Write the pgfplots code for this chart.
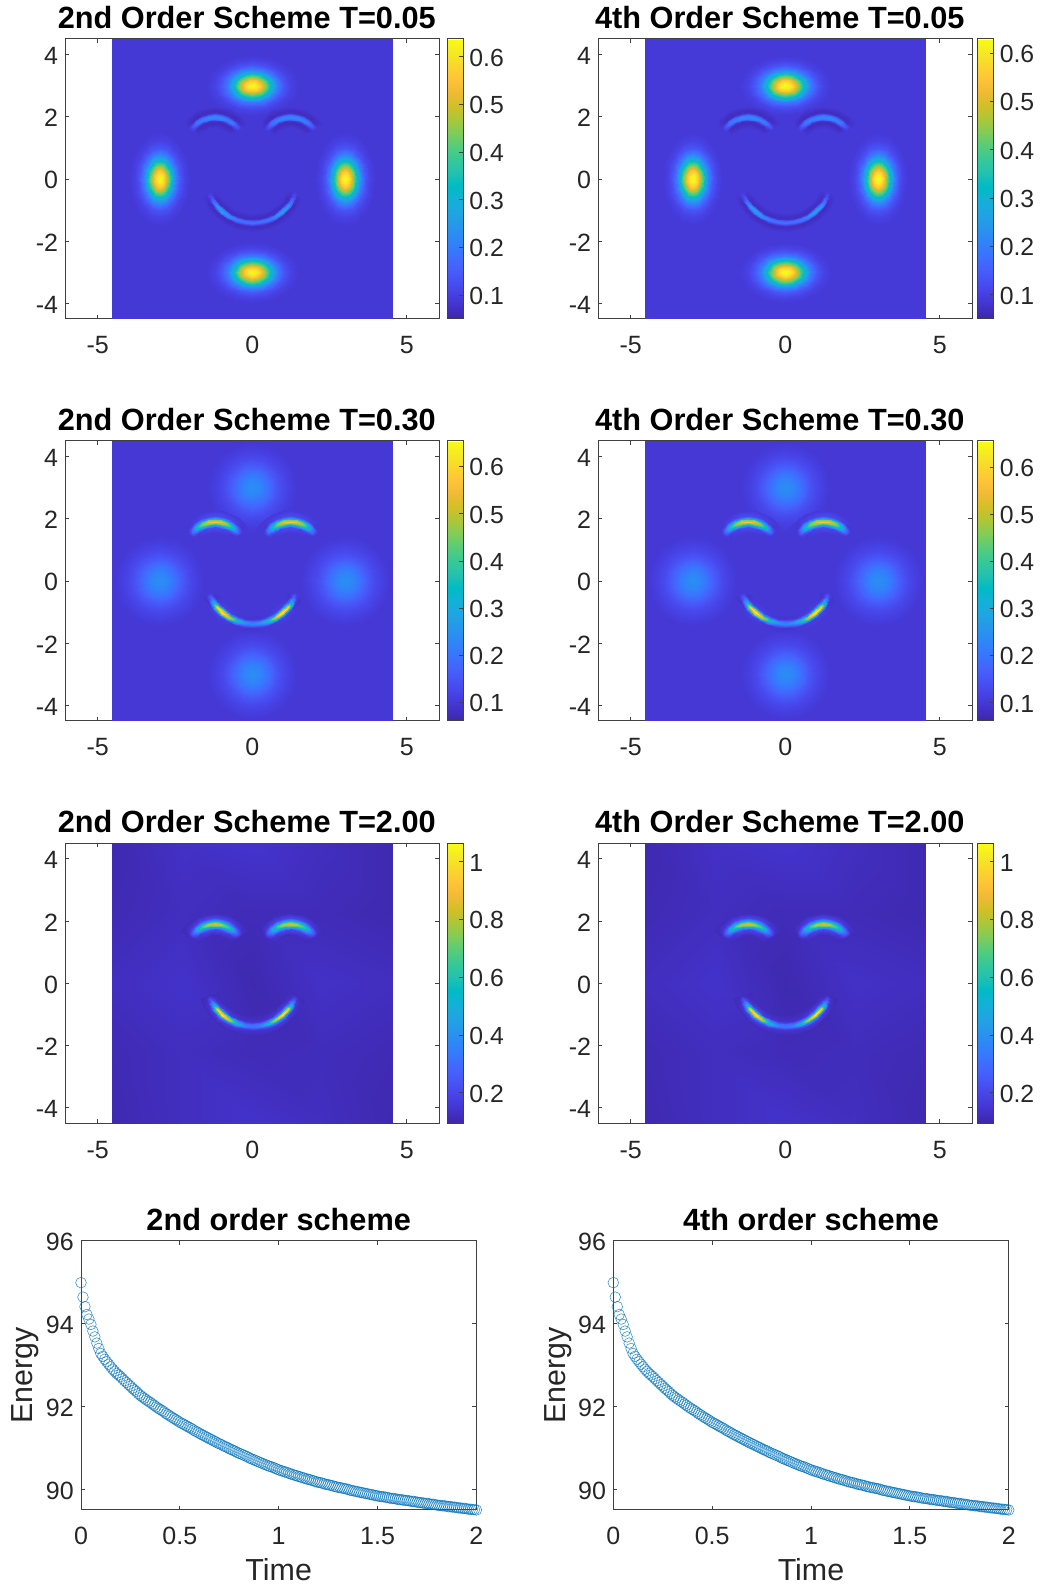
\documentclass[border=0pt]{standalone}
\usepackage{fontspec}
\setmainfont{Liberation Sans}
\usepackage{pgfplots}
\usepackage{pgfplotstable}
\pgfplotsset{compat=1.18}
\pgfplotsset{colormap={parula}{
rgb=(0.2422,0.1504,0.6603) rgb=(0.2647,0.1978,0.7952) rgb=(0.2783,0.2559,0.8991) rgb=(0.2810,0.3228,0.9579)
rgb=(0.2699,0.3892,0.9906) rgb=(0.2206,0.4603,0.9973) rgb=(0.1786,0.5289,0.9682) rgb=(0.1540,0.5902,0.9218)
rgb=(0.1248,0.6459,0.8883) rgb=(0.0689,0.6948,0.8394) rgb=(0.0067,0.7312,0.7660) rgb=(0.1408,0.7584,0.6842)
rgb=(0.2161,0.7843,0.5923) rgb=(0.3406,0.8008,0.4789) rgb=(0.5044,0.7993,0.3480) rgb=(0.6720,0.7793,0.2227)
rgb=(0.8203,0.7498,0.1535) rgb=(0.9393,0.7288,0.2100) rgb=(0.9970,0.7659,0.2199) rgb=(0.9786,0.8386,0.1766)
rgb=(0.9597,0.9135,0.1423) rgb=(0.9769,0.9839,0.0805)}}
\definecolor{axgray}{rgb}{0.25,0.25,0.25}
\definecolor{mline}{rgb}{0.0,0.447,0.741}
\pgfplotstableread{
th r c05 c30
0 0 0.635 0.24
22.5 0 0.635 0.24
45 0 0.635 0.24
67.5 0 0.635 0.24
90 0 0.635 0.24
112.5 0 0.635 0.24
135 0 0.635 0.24
157.5 0 0.635 0.24
180 0 0.635 0.24
202.5 0 0.635 0.24
225 0 0.635 0.24
247.5 0 0.635 0.24
270 0 0.635 0.24
292.5 0 0.635 0.24
315 0 0.635 0.24
337.5 0 0.635 0.24
360 0 0.635 0.24
0 0.3 0.611 0.236
22.5 0.3 0.611 0.236
45 0.3 0.611 0.236
67.5 0.3 0.611 0.236
90 0.3 0.611 0.236
112.5 0.3 0.611 0.236
135 0.3 0.611 0.236
157.5 0.3 0.611 0.236
180 0.3 0.611 0.236
202.5 0.3 0.611 0.236
225 0.3 0.611 0.236
247.5 0.3 0.611 0.236
270 0.3 0.611 0.236
292.5 0.3 0.611 0.236
315 0.3 0.611 0.236
337.5 0.3 0.611 0.236
360 0.3 0.611 0.236
0 0.6 0.545 0.224
22.5 0.6 0.545 0.224
45 0.6 0.545 0.224
67.5 0.6 0.545 0.224
90 0.6 0.545 0.224
112.5 0.6 0.545 0.224
135 0.6 0.545 0.224
157.5 0.6 0.545 0.224
180 0.6 0.545 0.224
202.5 0.6 0.545 0.224
225 0.6 0.545 0.224
247.5 0.6 0.545 0.224
270 0.6 0.545 0.224
292.5 0.6 0.545 0.224
315 0.6 0.545 0.224
337.5 0.6 0.545 0.224
360 0.6 0.545 0.224
0 0.9 0.454 0.207
22.5 0.9 0.454 0.207
45 0.9 0.454 0.207
67.5 0.9 0.454 0.207
90 0.9 0.454 0.207
112.5 0.9 0.454 0.207
135 0.9 0.454 0.207
157.5 0.9 0.454 0.207
180 0.9 0.454 0.207
202.5 0.9 0.454 0.207
225 0.9 0.454 0.207
247.5 0.9 0.454 0.207
270 0.9 0.454 0.207
292.5 0.9 0.454 0.207
315 0.9 0.454 0.207
337.5 0.9 0.454 0.207
360 0.9 0.454 0.207
0 1.2 0.355 0.187
22.5 1.2 0.355 0.187
45 1.2 0.355 0.187
67.5 1.2 0.355 0.187
90 1.2 0.355 0.187
112.5 1.2 0.355 0.187
135 1.2 0.355 0.187
157.5 1.2 0.355 0.187
180 1.2 0.355 0.187
202.5 1.2 0.355 0.187
225 1.2 0.355 0.187
247.5 1.2 0.355 0.187
270 1.2 0.355 0.187
292.5 1.2 0.355 0.187
315 1.2 0.355 0.187
337.5 1.2 0.355 0.187
360 1.2 0.355 0.187
0 1.5 0.267 0.166
22.5 1.5 0.267 0.166
45 1.5 0.267 0.166
67.5 1.5 0.267 0.166
90 1.5 0.267 0.166
112.5 1.5 0.267 0.166
135 1.5 0.267 0.166
157.5 1.5 0.267 0.166
180 1.5 0.267 0.166
202.5 1.5 0.267 0.166
225 1.5 0.267 0.166
247.5 1.5 0.267 0.166
270 1.5 0.267 0.166
292.5 1.5 0.267 0.166
315 1.5 0.267 0.166
337.5 1.5 0.267 0.166
360 1.5 0.267 0.166
0 1.8 0.198 0.147
22.5 1.8 0.198 0.147
45 1.8 0.198 0.147
67.5 1.8 0.198 0.147
90 1.8 0.198 0.147
112.5 1.8 0.198 0.147
135 1.8 0.198 0.147
157.5 1.8 0.198 0.147
180 1.8 0.198 0.147
202.5 1.8 0.198 0.147
225 1.8 0.198 0.147
247.5 1.8 0.198 0.147
270 1.8 0.198 0.147
292.5 1.8 0.198 0.147
315 1.8 0.198 0.147
337.5 1.8 0.198 0.147
360 1.8 0.198 0.147
0 2.2 0.138 0.128
22.5 2.2 0.138 0.128
45 2.2 0.138 0.128
67.5 2.2 0.138 0.128
90 2.2 0.138 0.128
112.5 2.2 0.138 0.128
135 2.2 0.138 0.128
157.5 2.2 0.138 0.128
180 2.2 0.138 0.128
202.5 2.2 0.138 0.128
225 2.2 0.138 0.128
247.5 2.2 0.138 0.128
270 2.2 0.138 0.128
292.5 2.2 0.138 0.128
315 2.2 0.138 0.128
337.5 2.2 0.138 0.128
360 2.2 0.138 0.128
0 2.7 0.104 0.112
22.5 2.7 0.104 0.112
45 2.7 0.104 0.112
67.5 2.7 0.104 0.112
90 2.7 0.104 0.112
112.5 2.7 0.104 0.112
135 2.7 0.104 0.112
157.5 2.7 0.104 0.112
180 2.7 0.104 0.112
202.5 2.7 0.104 0.112
225 2.7 0.104 0.112
247.5 2.7 0.104 0.112
270 2.7 0.104 0.112
292.5 2.7 0.104 0.112
315 2.7 0.104 0.112
337.5 2.7 0.104 0.112
360 2.7 0.104 0.112
0 3.3 0.09 0.10
22.5 3.3 0.09 0.10
45 3.3 0.09 0.10
67.5 3.3 0.09 0.10
90 3.3 0.09 0.10
112.5 3.3 0.09 0.10
135 3.3 0.09 0.10
157.5 3.3 0.09 0.10
180 3.3 0.09 0.10
202.5 3.3 0.09 0.10
225 3.3 0.09 0.10
247.5 3.3 0.09 0.10
270 3.3 0.09 0.10
292.5 3.3 0.09 0.10
315 3.3 0.09 0.10
337.5 3.3 0.09 0.10
360 3.3 0.09 0.10
}\blobs
\pgfplotstableread{
th d c05 c30 c200
34 -0.36 0.09 0.10 0.115
34 -0.18 0.09 0.10 0.115
34 -0.12 0.09 0.10 0.115
34 -0.06 0.09 0.10 0.115
34 0 0.09 0.10 0.115
34 0.06 0.09 0.10 0.115
34 0.12 0.09 0.10 0.115
34 0.18 0.09 0.10 0.115
34 0.36 0.09 0.10 0.115
44 -0.36 0.09 0.10 0.115
44 -0.18 0.0725 0.098 0.143
44 -0.12 0.08 0.134 0.188
44 -0.06 0.125 0.194 0.258
44 0 0.15 0.22 0.295
44 0.06 0.125 0.194 0.258
44 0.12 0.08 0.134 0.188
44 0.18 0.0725 0.098 0.143
44 0.36 0.09 0.10 0.115
54 -0.36 0.09 0.10 0.115
54 -0.18 0.065 0.113 0.165
54 -0.12 0.076 0.186 0.266
54 -0.06 0.16 0.303 0.421
54 0 0.20 0.36 0.505
54 0.06 0.16 0.303 0.421
54 0.12 0.076 0.186 0.266
54 0.18 0.065 0.113 0.165
54 0.36 0.09 0.10 0.115
66 -0.36 0.09 0.10 0.115
66 -0.18 0.065 0.125 0.186
66 -0.12 0.078 0.231 0.340
66 -0.06 0.175 0.396 0.577
66 0 0.22 0.48 0.705
66 0.06 0.175 0.396 0.577
66 0.12 0.078 0.231 0.340
66 0.18 0.065 0.125 0.186
66 0.36 0.09 0.10 0.115
78 -0.36 0.09 0.10 0.115
78 -0.18 0.065 0.133 0.201
78 -0.12 0.08 0.257 0.391
78 -0.06 0.185 0.451 0.687
78 0 0.23 0.55 0.845
78 0.06 0.185 0.451 0.687
78 0.12 0.08 0.257 0.391
78 0.18 0.065 0.133 0.201
78 0.36 0.09 0.10 0.115
90 -0.36 0.09 0.10 0.115
90 -0.18 0.065 0.135 0.203
90 -0.12 0.08 0.264 0.399
90 -0.06 0.185 0.467 0.702
90 0 0.23 0.57 0.865
90 0.06 0.185 0.467 0.702
90 0.12 0.08 0.264 0.399
90 0.18 0.065 0.135 0.203
90 0.36 0.09 0.10 0.115
102 -0.36 0.09 0.10 0.115
102 -0.18 0.065 0.133 0.201
102 -0.12 0.08 0.257 0.391
102 -0.06 0.185 0.451 0.687
102 0 0.23 0.55 0.845
102 0.06 0.185 0.451 0.687
102 0.12 0.08 0.257 0.391
102 0.18 0.065 0.133 0.201
102 0.36 0.09 0.10 0.115
114 -0.36 0.09 0.10 0.115
114 -0.18 0.065 0.125 0.186
114 -0.12 0.078 0.231 0.340
114 -0.06 0.175 0.396 0.577
114 0 0.22 0.48 0.705
114 0.06 0.175 0.396 0.577
114 0.12 0.078 0.231 0.340
114 0.18 0.065 0.125 0.186
114 0.36 0.09 0.10 0.115
126 -0.36 0.09 0.10 0.115
126 -0.18 0.065 0.113 0.165
126 -0.12 0.076 0.186 0.266
126 -0.06 0.16 0.303 0.421
126 0 0.20 0.36 0.505
126 0.06 0.16 0.303 0.421
126 0.12 0.076 0.186 0.266
126 0.18 0.065 0.113 0.165
126 0.36 0.09 0.10 0.115
136 -0.36 0.09 0.10 0.115
136 -0.18 0.0725 0.098 0.143
136 -0.12 0.08 0.134 0.188
136 -0.06 0.125 0.194 0.258
136 0 0.15 0.22 0.295
136 0.06 0.125 0.194 0.258
136 0.12 0.08 0.134 0.188
136 0.18 0.0725 0.098 0.143
136 0.36 0.09 0.10 0.115
146 -0.36 0.09 0.10 0.115
146 -0.18 0.09 0.10 0.115
146 -0.12 0.09 0.10 0.115
146 -0.06 0.09 0.10 0.115
146 0 0.09 0.10 0.115
146 0.06 0.09 0.10 0.115
146 0.12 0.09 0.10 0.115
146 0.18 0.09 0.10 0.115
146 0.36 0.09 0.10 0.115
}\brow
\pgfplotstableread{
th d c05 c30 c200
200 -0.36 0.09 0.10 0.115
200 -0.18 0.09 0.10 0.115
200 -0.12 0.09 0.10 0.115
200 -0.06 0.09 0.10 0.115
200 0 0.09 0.10 0.115
200 0.06 0.09 0.10 0.115
200 0.12 0.09 0.10 0.115
200 0.18 0.09 0.10 0.115
200 0.36 0.09 0.10 0.115
207 -0.36 0.09 0.10 0.115
207 -0.18 0.078 0.089 0.132
207 -0.12 0.08 0.112 0.161
207 -0.06 0.11 0.158 0.219
207 0 0.13 0.18 0.255
207 0.06 0.11 0.158 0.219
207 0.12 0.08 0.112 0.161
207 0.18 0.078 0.089 0.132
207 0.36 0.09 0.10 0.115
215 -0.36 0.09 0.10 0.115
215 -0.18 0.068 0.10 0.150
215 -0.12 0.075 0.165 0.250
215 -0.06 0.155 0.296 0.452
215 0 0.20 0.37 0.575
215 0.06 0.155 0.296 0.452
215 0.12 0.075 0.165 0.250
215 0.18 0.068 0.10 0.150
215 0.36 0.09 0.10 0.115
220 -0.36 0.09 0.10 0.115
220 -0.18 0.068 0.113 0.173
220 -0.12 0.08 0.229 0.361
220 -0.06 0.20 0.463 0.742
220 0 0.27 0.60 0.975
220 0.06 0.20 0.463 0.742
220 0.12 0.08 0.229 0.361
220 0.18 0.068 0.113 0.173
220 0.36 0.09 0.10 0.115
230 -0.36 0.09 0.10 0.115
230 -0.18 0.068 0.116 0.177
230 -0.12 0.082 0.243 0.381
230 -0.06 0.20 0.499 0.793
230 0 0.27 0.65 1.045
230 0.06 0.20 0.499 0.793
230 0.12 0.082 0.243 0.381
230 0.18 0.068 0.116 0.177
230 0.36 0.09 0.10 0.115
240 -0.36 0.09 0.10 0.115
240 -0.18 0.068 0.11 0.165
240 -0.12 0.08 0.212 0.325
240 -0.06 0.18 0.419 0.648
240 0 0.24 0.54 0.845
240 0.06 0.18 0.419 0.648
240 0.12 0.08 0.212 0.325
240 0.18 0.068 0.11 0.165
240 0.36 0.09 0.10 0.115
250 -0.36 0.09 0.10 0.115
250 -0.18 0.068 0.10 0.149
250 -0.12 0.078 0.162 0.242
250 -0.06 0.158 0.289 0.43
250 0 0.20 0.36 0.545
250 0.06 0.158 0.289 0.43
250 0.12 0.078 0.162 0.242
250 0.18 0.068 0.10 0.149
250 0.36 0.09 0.10 0.115
260 -0.36 0.09 0.10 0.115
260 -0.18 0.068 0.094 0.139
260 -0.12 0.078 0.134 0.195
260 -0.06 0.15 0.216 0.307
260 0 0.19 0.26 0.375
260 0.06 0.15 0.216 0.307
260 0.12 0.078 0.134 0.195
260 0.18 0.068 0.094 0.139
260 0.36 0.09 0.10 0.115
270 -0.36 0.09 0.10 0.115
270 -0.18 0.068 0.092 0.136
270 -0.12 0.078 0.126 0.181
270 -0.06 0.15 0.194 0.27
270 0 0.19 0.23 0.325
270 0.06 0.15 0.194 0.27
270 0.12 0.078 0.126 0.181
270 0.18 0.068 0.092 0.136
270 0.36 0.09 0.10 0.115
280 -0.36 0.09 0.10 0.115
280 -0.18 0.068 0.094 0.139
280 -0.12 0.078 0.134 0.195
280 -0.06 0.15 0.216 0.307
280 0 0.19 0.26 0.375
280 0.06 0.15 0.216 0.307
280 0.12 0.078 0.134 0.195
280 0.18 0.068 0.094 0.139
280 0.36 0.09 0.10 0.115
290 -0.36 0.09 0.10 0.115
290 -0.18 0.068 0.10 0.149
290 -0.12 0.078 0.162 0.242
290 -0.06 0.158 0.289 0.43
290 0 0.20 0.36 0.545
290 0.06 0.158 0.289 0.43
290 0.12 0.078 0.162 0.242
290 0.18 0.068 0.10 0.149
290 0.36 0.09 0.10 0.115
300 -0.36 0.09 0.10 0.115
300 -0.18 0.068 0.11 0.165
300 -0.12 0.08 0.212 0.325
300 -0.06 0.18 0.419 0.648
300 0 0.24 0.54 0.845
300 0.06 0.18 0.419 0.648
300 0.12 0.08 0.212 0.325
300 0.18 0.068 0.11 0.165
300 0.36 0.09 0.10 0.115
310 -0.36 0.09 0.10 0.115
310 -0.18 0.068 0.116 0.177
310 -0.12 0.082 0.243 0.381
310 -0.06 0.20 0.499 0.793
310 0 0.27 0.65 1.045
310 0.06 0.20 0.499 0.793
310 0.12 0.082 0.243 0.381
310 0.18 0.068 0.116 0.177
310 0.36 0.09 0.10 0.115
320 -0.36 0.09 0.10 0.115
320 -0.18 0.068 0.113 0.173
320 -0.12 0.08 0.229 0.361
320 -0.06 0.20 0.463 0.742
320 0 0.27 0.60 0.975
320 0.06 0.20 0.463 0.742
320 0.12 0.08 0.229 0.361
320 0.18 0.068 0.113 0.173
320 0.36 0.09 0.10 0.115
325 -0.36 0.09 0.10 0.115
325 -0.18 0.068 0.10 0.150
325 -0.12 0.075 0.165 0.250
325 -0.06 0.155 0.296 0.452
325 0 0.20 0.37 0.575
325 0.06 0.155 0.296 0.452
325 0.12 0.075 0.165 0.250
325 0.18 0.068 0.10 0.150
325 0.36 0.09 0.10 0.115
333 -0.36 0.09 0.10 0.115
333 -0.18 0.078 0.089 0.132
333 -0.12 0.08 0.112 0.161
333 -0.06 0.11 0.158 0.219
333 0 0.13 0.18 0.255
333 0.06 0.11 0.158 0.219
333 0.12 0.08 0.112 0.161
333 0.18 0.078 0.089 0.132
333 0.36 0.09 0.10 0.115
340 -0.36 0.09 0.10 0.115
340 -0.18 0.09 0.10 0.115
340 -0.12 0.09 0.10 0.115
340 -0.06 0.09 0.10 0.115
340 0 0.09 0.10 0.115
340 0.06 0.09 0.10 0.115
340 0.12 0.09 0.10 0.115
340 0.18 0.09 0.10 0.115
340 0.36 0.09 0.10 0.115
}\smile
\pgfplotstableread{
x y c05 c30 c200
-4.55 -4.5 0.09 0.10 0.105
-2.25 -4.5 0.09 0.10 0.125
0 -4.5 0.09 0.10 0.14
2.25 -4.5 0.09 0.10 0.125
4.55 -4.5 0.09 0.10 0.105
-4.55 -2.25 0.09 0.10 0.11
-2.25 -2.25 0.09 0.10 0.125
0 -2.25 0.09 0.10 0.115
2.25 -2.25 0.09 0.10 0.12
4.55 -2.25 0.09 0.10 0.11
-4.55 0 0.09 0.10 0.125
-2.25 0 0.09 0.10 0.14
0 0 0.09 0.10 0.105
2.25 0 0.09 0.10 0.135
4.55 0 0.09 0.10 0.125
-4.55 2.25 0.09 0.10 0.11
-2.25 2.25 0.09 0.10 0.125
0 2.25 0.09 0.10 0.115
2.25 2.25 0.09 0.10 0.115
4.55 2.25 0.09 0.10 0.105
-4.55 4.5 0.09 0.10 0.105
-2.25 4.5 0.09 0.10 0.135
0 4.5 0.09 0.10 0.145
2.25 4.5 0.09 0.10 0.125
4.55 4.5 0.09 0.10 0.105
}\bgmesh
\pgfplotstableread{
t E
0 94.99
0.01 94.64
0.02 94.41
0.03 94.22
0.04 94.11
0.05 93.98
0.06 93.82
0.07 93.68
0.08 93.53
0.09 93.40
0.10 93.28
0.11 93.21
0.12 93.14
0.13 93.08
0.14 93.02
0.15 92.96
0.16 92.90
0.17 92.85
0.18 92.80
0.19 92.76
0.20 92.72
0.21 92.67
0.22 92.62
0.23 92.58
0.24 92.53
0.25 92.49
0.26 92.44
0.27 92.40
0.28 92.36
0.29 92.31
0.30 92.27
0.31 92.23
0.32 92.20
0.33 92.16
0.34 92.13
0.35 92.10
0.36 92.06
0.37 92.03
0.38 91.99
0.39 91.96
0.40 91.93
0.41 91.90
0.42 91.87
0.43 91.83
0.44 91.80
0.45 91.77
0.46 91.74
0.47 91.71
0.48 91.68
0.49 91.65
0.50 91.62
0.51 91.59
0.52 91.57
0.53 91.54
0.54 91.51
0.55 91.49
0.56 91.46
0.57 91.43
0.58 91.40
0.59 91.38
0.60 91.35
0.61 91.32
0.62 91.30
0.63 91.27
0.64 91.25
0.65 91.22
0.66 91.20
0.67 91.17
0.68 91.15
0.69 91.12
0.70 91.10
0.71 91.08
0.72 91.05
0.73 91.03
0.74 91.01
0.75 90.98
0.76 90.96
0.77 90.94
0.78 90.92
0.79 90.89
0.80 90.87
0.81 90.85
0.82 90.83
0.83 90.81
0.84 90.79
0.85 90.76
0.86 90.74
0.87 90.72
0.88 90.70
0.89 90.68
0.90 90.66
0.91 90.64
0.92 90.62
0.93 90.60
0.94 90.58
0.95 90.56
0.96 90.55
0.97 90.53
0.98 90.51
0.99 90.49
1.00 90.47
1.01 90.45
1.02 90.44
1.03 90.42
1.04 90.41
1.05 90.39
1.06 90.37
1.07 90.36
1.08 90.34
1.09 90.33
1.10 90.31
1.11 90.30
1.12 90.28
1.13 90.27
1.14 90.25
1.15 90.24
1.16 90.23
1.17 90.21
1.18 90.20
1.19 90.18
1.20 90.17
1.21 90.16
1.22 90.15
1.23 90.13
1.24 90.12
1.25 90.11
1.26 90.10
1.27 90.09
1.28 90.07
1.29 90.06
1.30 90.05
1.31 90.04
1.32 90.03
1.33 90.02
1.34 90.01
1.35 90.00
1.36 89.98
1.37 89.97
1.38 89.96
1.39 89.95
1.40 89.94
1.41 89.93
1.42 89.92
1.43 89.91
1.44 89.90
1.45 89.89
1.46 89.88
1.47 89.87
1.48 89.86
1.49 89.85
1.50 89.84
1.51 89.83
1.52 89.82
1.53 89.82
1.54 89.81
1.55 89.80
1.56 89.79
1.57 89.78
1.58 89.78
1.59 89.77
1.60 89.76
1.61 89.75
1.62 89.75
1.63 89.74
1.64 89.73
1.65 89.73
1.66 89.72
1.67 89.71
1.68 89.71
1.69 89.70
1.70 89.69
1.71 89.68
1.72 89.68
1.73 89.67
1.74 89.66
1.75 89.66
1.76 89.65
1.77 89.64
1.78 89.64
1.79 89.63
1.80 89.62
1.81 89.61
1.82 89.61
1.83 89.60
1.84 89.60
1.85 89.59
1.86 89.58
1.87 89.58
1.88 89.57
1.89 89.57
1.90 89.56
1.91 89.55
1.92 89.55
1.93 89.54
1.94 89.54
1.95 89.53
1.96 89.52
1.97 89.52
1.98 89.51
1.99 89.51
2.00 89.50
}\energy
\pgfplotsset{
 every axis title shift=0pt,
 base/.style={scale only axis, axis line style={draw=axgray,line width=0.5pt},
  tick style={draw=axgray,line width=0.4pt}, major tick length=2pt, tick align=inside,
  tick label style={font=\fontsize{12.5}{14}\selectfont, text=black!85},
  title style={font=\bfseries\fontsize{15.35}{18}\selectfont, anchor=base, at={(0.5,1)}, yshift=5.35pt},
  xticklabel style={anchor=base, yshift=-17.5pt},
  yticklabel style={anchor=base east, xshift=-0.1pt, yshift=-5pt},
 },
 hm/.style={base, width=187pt, height=140pt, xmin=-6.05, xmax=6.05, ymin=-4.5, ymax=4.5,
  xtick={-5,0,5}, xticklabels={-5,0,5}, ytick={-4,-2,0,2,4}, yticklabels={-4,-2,0,2,4},
  title style={xshift=-2.75pt}, colormap name=parula, colorbar,
  colorbar shift/.style={xshift=2.35pt},
 },
 cb/.style={colorbar style={width=8pt, height=140pt, scale only axis,
   axis line style={draw=axgray,line width=0.5pt},
   tick style={draw=axgray,line width=0.4pt}, major tick length=2pt, tick align=inside,
   ytick pos=right, yticklabel pos=right,
   ytick={#1}, yticklabels={#1},
   yticklabel style={font=\fontsize{12.4}{14}\selectfont, text=black!85, anchor=base west, xshift=-0.4pt, yshift=-4.7pt}}},
 en/.style={base, width=197.7pt, height=134.6pt, xmin=0, xmax=2, ymin=89.5, ymax=96, clip=false,
  xtick={0,0.5,1,1.5,2}, xticklabels={0,0.5,1,1.5,2}, ytick={90,92,94,96}, yticklabels={90,92,94,96},
  xlabel={Time}, ylabel={Energy},
  xlabel style={font=\fontsize{15.2}{18}\selectfont, text=black!85, anchor=base, at={(axis description cs:0.5,0)}, yshift=-35.3pt},
  ylabel style={font=\fontsize{15.2}{18}\selectfont, text=black!85, anchor=base, at={(axis description cs:0,0.5)}, yshift=24pt},
 },
}
\newcommand\bgp[1]{\addplot[surf, shader=interp, mesh/cols=5, point meta=explicit] table[x=x,y=y,meta=#1] {\bgmesh};}
\newcommand\blob[5]{\addplot[surf, shader=interp, mesh/cols=17, point meta=explicit] table[x expr={#1+#3*\thisrow{r}*cos(\thisrow{th})}, y expr={#2+#4*\thisrow{r}*sin(\thisrow{th})}, meta=#5] {\blobs};}
\newcommand\arcs[3]{%
 \addplot[surf, shader=interp, mesh/cols=9, point meta=explicit] table[x expr={-1.22+(0.96+\thisrow{d})*cos(\thisrow{th})}, y expr={#2+(0.96+\thisrow{d})*sin(\thisrow{th})}, meta=#1] {\brow};
 \addplot[surf, shader=interp, mesh/cols=9, point meta=explicit] table[x expr={1.22+(0.96+\thisrow{d})*cos(\thisrow{th})}, y expr={#2+(0.96+\thisrow{d})*sin(\thisrow{th})}, meta=#1] {\brow};
 \addplot[surf, shader=interp, mesh/cols=9, point meta=explicit] table[x expr={(1.5+0.85*\thisrow{d})*cos(\thisrow{th})}, y expr={#3+(1.5+0.85*\thisrow{d})*sin(\thisrow{th})}, meta=#1] {\smile};
}
\newcommand\panelA[4]{% T=0.05: x, y, min, max
 \begin{axis}[hm, at={(#1,635pt)}, anchor=south west, title={#2 Order Scheme T=0.05}, point meta min=#3, point meta max=#4, cb={0.1,0.2,0.3,0.4,0.5,0.6}]
 \bgp{c05}
 \blob{0}{3}{0.46}{0.30}{c05}\blob{0}{-3}{0.46}{0.30}{c05}\blob{3}{0}{0.30}{0.46}{c05}\blob{-3}{0}{0.30}{0.46}{c05}
 \arcs{c05}{1.03}{0.10}
 \end{axis}}
\newcommand\panelB[4]{%
 \begin{axis}[hm, at={(#1,434pt)}, anchor=south west, title={#2 Order Scheme T=0.30}, point meta min=#3, point meta max=#4, cb={0.1,0.2,0.3,0.4,0.5,0.6}]
 \bgp{c30}
 \blob{0}{3}{0.45}{0.45}{c30}\blob{0}{-3}{0.45}{0.45}{c30}\blob{3}{0}{0.45}{0.45}{c30}\blob{-3}{0}{0.45}{0.45}{c30}
 \arcs{c30}{0.95}{0.13}
 \end{axis}}
\newcommand\panelC[4]{%
 \begin{axis}[hm, at={(#1,232.85pt)}, anchor=south west, title={#2 Order Scheme T=2.00}, point meta min=#3, point meta max=#4, cb={0.2,0.4,0.6,0.8,1}]
 \bgp{c200}
 \arcs{c200}{0.95}{0.13}
 \end{axis}}
\newcommand\panelE[2]{%
 \begin{axis}[en, at={(#1,39.5pt)}, anchor=south west, title={#2 order scheme}]
 \addplot[only marks, mark=o, mark size=2.67pt, mark options={draw=mline, line width=0.3pt, draw opacity=0.75}] table[x=t,y=E] {\energy};
 \end{axis}}
\begin{document}
\begin{tikzpicture}
\path[use as bounding box] (0,0) rectangle (520pt,794.5pt);
\panelA{32.65pt}{2nd}{0.05}{0.637}
\panelA{299.15pt}{4th}{0.05}{0.629}
\panelB{32.65pt}{2nd}{0.061}{0.654}
\panelB{299.15pt}{4th}{0.061}{0.655}
\panelC{32.65pt}{2nd}{0.094}{1.064}
\panelC{299.15pt}{4th}{0.094}{1.064}
\panelE{40.5pt}{2nd}
\panelE{306.65pt}{4th}
\end{tikzpicture}
\end{document}
